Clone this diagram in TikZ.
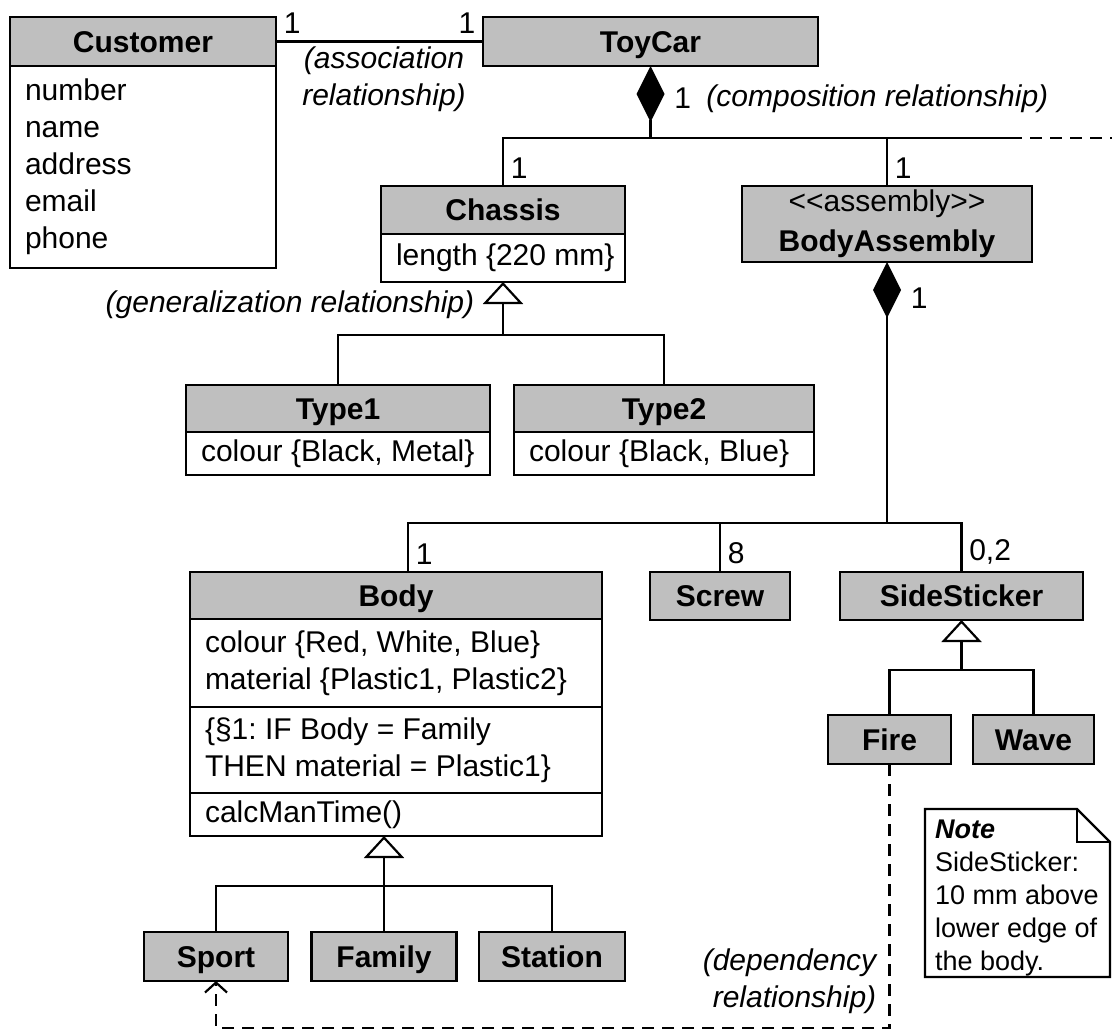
\documentclass[tikz,border=0pt]{standalone}
\usepackage{fontspec}
\setmainfont{Liberation Sans}
\usetikzlibrary{
  positioning,
  arrows.meta
}
\frenchspacing

\newcommand{\txtsize}{\fontsize{15}{18.5}\selectfont}

\begin{document}
\begin{tikzpicture}[x=0.5pt,y=-0.5pt,line width=1.1pt,font=\txtsize,
        head/.style={draw,fill=gray!50,font=\txtsize\bfseries,inner sep=0pt,outer sep=0pt,minimum height=24pt,
            text height=10.7pt,text depth=0pt},
        attr/.style={draw,fill=white,anchor=north,align=flush left,inner xsep=1pt,inner ysep=0pt,outer sep=0pt,
            execute at begin node={\leftskip=6.5pt\relax}},
        rel/.style={font=\txtsize\itshape},
        comp/.style={{Diamond[length=28pt,width=14pt]}-},
        gen/.style={{Triangle[open,length=11pt,width=20pt,fill=white]}-},
        dep/.style={dash pattern=on 6pt off 4pt}]
        \useasboundingbox (0,0) rectangle (1112,1034);

        % classes
        \node[head,minimum width=133pt,minimum height=24.5pt] (customer) at (143,41.5) {Customer};
        \node[attr,text width=131pt,minimum height=101pt] (customerattr) at (customer.south) {number\\name\\address\\email\\phone};
        \node[head,minimum width=167.5pt,minimum height=24.5pt] (toycar) at (650.5,41.5) {ToyCar};
        \node[head,minimum width=122pt] (chassis) at (503,210) {Chassis};
        \node[attr,text width=120pt,minimum height=24pt] (chassisattr) at (chassis.south) {length \{220 mm\}};
        \node[head,minimum width=145pt,minimum height=38pt,align=center,text height={},text depth={}] (bodyassy) at (887,224)
            {{\mdseries <\kern0pt<assembly>\kern0pt>}\\[1.5pt]BodyAssembly};
        \node[head,minimum width=152pt,minimum height=23.5pt] (type1) at (338,408.5) {Type1};
        \node[attr,text width=150pt,minimum height=21.5pt] (type1attr) at (type1.south) {colour \{Black, Metal\}};
        \node[head,minimum width=150pt,minimum height=23.5pt] (type2) at (664,408.5) {Type2};
        \node[attr,text width=148pt,minimum height=21.5pt] (type2attr) at (type2.south) {colour \{Black, Blue\}};
        \node[head,minimum width=206pt,minimum height=23.5pt] (body) at (396,595.5) {Body};
        \node[attr,text width=204pt,minimum height=44pt] (bodyattr) at (body.south) {colour \{Red, White, Blue\}\\material \{Plastic1, Plastic2\}};
        \node[attr,text width=204pt,minimum height=43pt] (bodyrule) at (bodyattr.south) {\{§1: IF Body = Family\\THEN material = Plastic1\}};
        \node[attr,text width=204pt,minimum height=21.5pt] (bodyop) at (bodyrule.south) {calcManTime()};
        \node[head,minimum width=70pt] (screw) at (720,596) {Screw};
        \node[head,minimum width=121.5pt] (sidesticker) at (961.5,596) {SideSticker};
        \node[head,minimum width=61.5pt,minimum height=24.5pt] (fire) at (889.5,739.5) {Fire};
        \node[head,minimum width=60.5pt,minimum height=24.5pt] (wave) at (1033.5,739.5) {Wave};
        \node[head,minimum width=72pt,minimum height=24.5pt] (sport) at (216,956.5) {Sport};
        \node[head,minimum width=72.5pt,minimum height=24.5pt] (family) at (384,956.5) {Family};
        \node[head,minimum width=73pt,minimum height=24.5pt] (station) at (552,956.5) {Station};

        % note
        \node[minimum width=92.5pt,minimum height=84pt,text width=88.5pt,inner xsep=2pt,inner ysep=0pt,outer sep=0pt,align=flush left,
            font=\fontsize{13.5}{16.5}\selectfont,execute at begin node={\leftskip=3pt\relax}] (note) at (1017.5,893)
            {\textbf{\textit{Note}}\rule{0pt}{14pt}\\SideSticker:\\10 mm above\\lower edge of\\the body.};
        \draw (note.north west) -- ([xshift=-16.5pt]note.north east) -- ([yshift=-16.5pt]note.north east) -- (note.south east) -- (note.south west) -- cycle;
        \draw ([xshift=-16.5pt]note.north east) |- ([yshift=-16.5pt]note.north east);

        % association
        \draw (customer.east) node[above right] {1} -- (toycar.west) node[above left] {1};
        \node[rel,align=center] (assoclabel) at (384,79) {(association\\relationship)};

        % composition
        \coordinate (cj) at (650.5,138);
        \coordinate (compend) at (1010,138);
        \coordinate (offpage) at (1112,138);
        \draw[comp] (toycar.south) -- node[pos=0.45,right,xshift=8pt] (compone) {1} (cj);
        \node[rel,right=0pt of compone] (complabel) {(composition relationship)};
        \draw (chassis.north) node[above right] {1} |- (compend);
        \draw[dep] (compend) -- (offpage);
        \draw (bodyassy.north) node[above right] {1} -- (bodyassy.north |- cj);

        \coordinate (bj) at (888,523);
        \draw[comp] (bodyassy.south) -- node[pos=0.14,right,xshift=8pt] {1} (bodyassy.south |- bj);
        \draw ([xshift=6pt]body.north) node[above right] {1} |- (bj) -| (sidesticker.north) node[above right] {0,2};
        \draw (screw.north) node[above right] {8} -- (screw.north |- bj);

        % generalization
        \coordinate (g1) at (503,335);
        \draw[gen] (chassisattr.south) -- (g1);
        \draw (type1.north) |- (g1) -| (type2.north);
        \node[rel,anchor=east] (genlabel) at (482,305) {(generalization relationship)};

        \coordinate (g2) at (961.5,670);
        \draw[gen] (sidesticker.south) -- (g2);
        \draw (fire.north) |- (g2) -| (wave.north);

        \coordinate (g3) at (384,886);
        \draw[gen] ([xshift=-6pt]bodyop.south) -- (g3);
        \draw (sport.north) |- (g3) -| (station.north);
        \draw (family.north) -- (g3);

        % dependency
        \coordinate (depbot) at (0,1028);
        \draw[dep,-{Straight Barb[length=5pt,width=11pt]}] (fire.south) |- (sport.south |- depbot) -- (sport.south);
        \node[rel,align=right,anchor=east] (deplabel) at (884,981) {(dependency\\relationship)};
    \end{tikzpicture}
\end{document}
